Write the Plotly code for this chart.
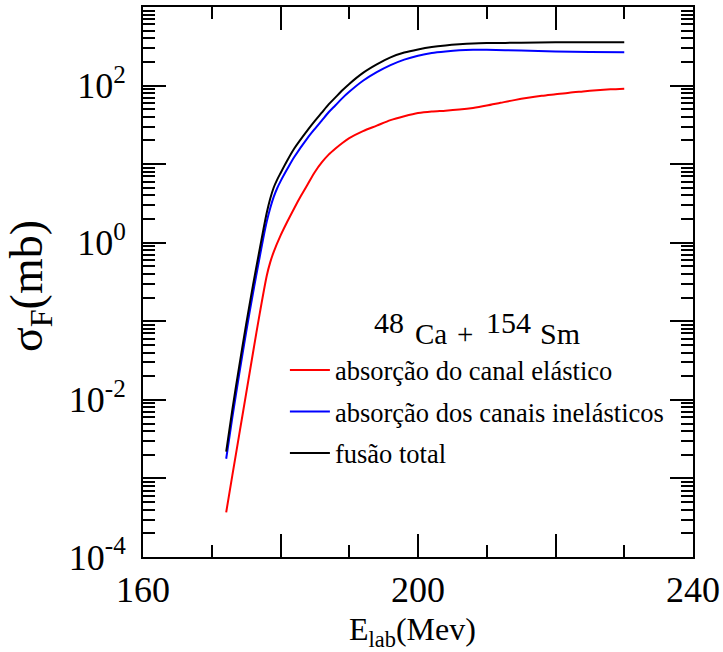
import plotly.graph_objects as go

# Energies (MeV) and cross sections (mb)
E_total = [172.1, 173, 174, 175, 176, 177, 177.5, 178, 178.5, 179, 179.5, 180, 181, 182, 184,
           185, 186, 187, 188, 189, 190, 192, 194, 196, 198, 200, 202, 204, 206, 208, 210,
           215, 220, 225, 230]
sigma_total = [0.00219, 0.00759, 0.0269, 0.0912, 0.288, 0.851, 1.45, 2.40, 3.63, 5.01, 6.31,
               7.67, 11.2, 15.8, 27.5, 35.5, 45.2, 57.5, 70.8, 87.1, 105, 145, 186, 229, 263,
               288, 309, 324, 335, 343, 347, 351, 355, 355, 357]

E_inel = [172.1, 173, 174, 175, 176, 177, 177.5, 178, 178.5, 179, 179.5, 180, 181, 182, 184,
          185, 186, 187, 188, 189, 190, 192, 194, 196, 198, 200, 202, 204, 206, 208, 210,
          215, 220, 225, 230]
sigma_inel = [0.00178, 0.00603, 0.0214, 0.0724, 0.229, 0.676, 1.15, 1.86, 2.75, 3.80, 4.90,
              6.03, 8.71, 12.3, 21.9, 28.2, 35.9, 45.7, 56.2, 69.2, 83.2, 115, 148, 182, 214,
              240, 260, 272, 281, 285, 285, 279, 272, 268, 266]

E_el = [172.1, 173, 174, 175, 176, 177, 178, 178.5, 179, 180, 181, 182, 183, 184, 185, 186,
        187, 188, 189, 190, 192, 194, 196, 198, 200, 202, 204, 206, 208, 210, 212, 214, 216,
        218, 220, 222, 224, 226, 228, 230]
sigma_el = [0.00037, 0.00110, 0.00363, 0.0120, 0.0398, 0.129, 0.380, 0.562, 0.759, 1.23,
            1.86, 2.75, 3.98, 5.62, 7.94, 10.5, 13.2, 15.8, 18.6, 21.4, 26.3, 30.9, 36.3,
            40.7, 44.7, 46.8, 47.9, 49.5, 51.9, 55.6, 60.3, 65.3, 70.0, 74.1, 77.6, 81.3,
            84.1, 87.1, 89.5, 91.2]

names = ["absorção do canal elástico", "absorção dos canais inelásticos", "fusão total"]
colors = ["#ff0000", "#0000ff", "#000000"]

x_labeled = [160, 200, 240]
x_labeled_text = ["160", "200", "240"]
x_major_unlabeled = [180, 220]
x_minor = [170, 190, 210, 230]

y_labeled_exps = [-4, -2, 0, 2]
y_labeled = [10.0 ** k for k in y_labeled_exps]
y_labeled_text = ["10<sup>%d</sup>" % k for k in y_labeled_exps]
y_major_unlabeled = [10.0 ** k for k in [-3, -1, 1, 3]]
y_minor = [m * 10.0 ** k for k in range(-4, 3) for m in range(2, 10)]

FONT = "Liberation Serif"

fig = go.Figure()
for i, (xs, ys) in enumerate([(E_el, sigma_el), (E_inel, sigma_inel), (E_total, sigma_total)]):
    fig.add_trace(go.Scatter(x=xs, y=ys, mode="lines", name=names[i],
                             line=dict(color=colors[i], width=2, shape="spline", smoothing=0.8),
                             legendgroup="g%d" % i))
# empty trace holding the overlay axes for the unlabeled major ticks
fig.add_trace(go.Scatter(x=[], y=[], xaxis="x2", yaxis="y2", showlegend=False,
                         hoverinfo="skip"))

axis_common = dict(showgrid=False, zeroline=False, showline=True, linecolor="black",
                   linewidth=2, mirror="ticks", ticks="inside", tickwidth=2,
                   tickcolor="black", ticklen=23, automargin=False,
                   tickfont=dict(family=FONT, size=36, color="black"))
minor_common = dict(tickmode="array", ticklen=12, tickwidth=2, tickcolor="black",
                    ticks="inside")

fig.update_layout(
    xaxis=dict(range=[160, 240], tickmode="array", tickvals=x_labeled,
               ticktext=x_labeled_text, minor=dict(tickvals=x_minor, **minor_common),
               **axis_common),
    yaxis=dict(type="log", range=[-4, 3], tickmode="array", tickvals=y_labeled,
               ticktext=y_labeled_text, ticklabelstandoff=8,
               minor=dict(tickvals=y_minor, **minor_common), **axis_common),
    xaxis2=dict(range=[160, 240], tickmode="array", tickvals=x_major_unlabeled,
                showticklabels=False, overlaying="x", anchor="y", side="bottom",
                **axis_common),
    yaxis2=dict(type="log", range=[-4, 3], tickmode="array", tickvals=y_major_unlabeled,
                showticklabels=False, overlaying="y", anchor="x", side="left",
                **axis_common),
)


def px_x(p):
    return (p - 143) / 550


def px_y(p):
    return (557 - p) / 550


fig.update_layout(
    width=723, height=652,
    margin=dict(l=143, r=30, t=7, b=95),
    plot_bgcolor="white", paper_bgcolor="white",
    font=dict(family=FONT, color="black"),
    showlegend=True,
    legend=dict(x=0.258, y=0.383, xanchor="left", yanchor="top",
                font=dict(family=FONT, size=26.5, color="black"),
                bgcolor="rgba(0,0,0,0)", tracegroupgap=4, itemwidth=40),
    annotations=[
        dict(text="E<sub>lab</sub>(Mev)", x=0.49, y=-0.136, xref="paper", yref="paper",
             xanchor="center", yanchor="middle", showarrow=False,
             font=dict(family=FONT, size=32, color="black")),
        dict(text="σ<sub>F</sub>(mb)", x=-0.205, y=0.493, xref="paper", yref="paper",
             xanchor="center", yanchor="middle", showarrow=False, textangle=-90,
             font=dict(family=FONT, size=46, color="black")),
        dict(text="48", x=px_x(372), y=px_y(322), xref="paper", yref="paper",
             xanchor="left", yanchor="middle", showarrow=False,
             font=dict(family=FONT, size=30, color="black")),
        dict(text="Ca", x=px_x(413), y=px_y(334), xref="paper", yref="paper",
             xanchor="left", yanchor="middle", showarrow=False,
             font=dict(family=FONT, size=29, color="black")),
        dict(text="+", x=px_x(455), y=px_y(334), xref="paper", yref="paper",
             xanchor="left", yanchor="middle", showarrow=False,
             font=dict(family=FONT, size=29, color="black")),
        dict(text="154", x=px_x(484), y=px_y(322), xref="paper", yref="paper",
             xanchor="left", yanchor="middle", showarrow=False,
             font=dict(family=FONT, size=30, color="black")),
        dict(text="Sm", x=px_x(538), y=px_y(334), xref="paper", yref="paper",
             xanchor="left", yanchor="middle", showarrow=False,
             font=dict(family=FONT, size=30, color="black")),
    ],
)

fig.write_html("out.html", config={"displayModeBar": False},
               post_script="document.body.style.margin='0px';")
